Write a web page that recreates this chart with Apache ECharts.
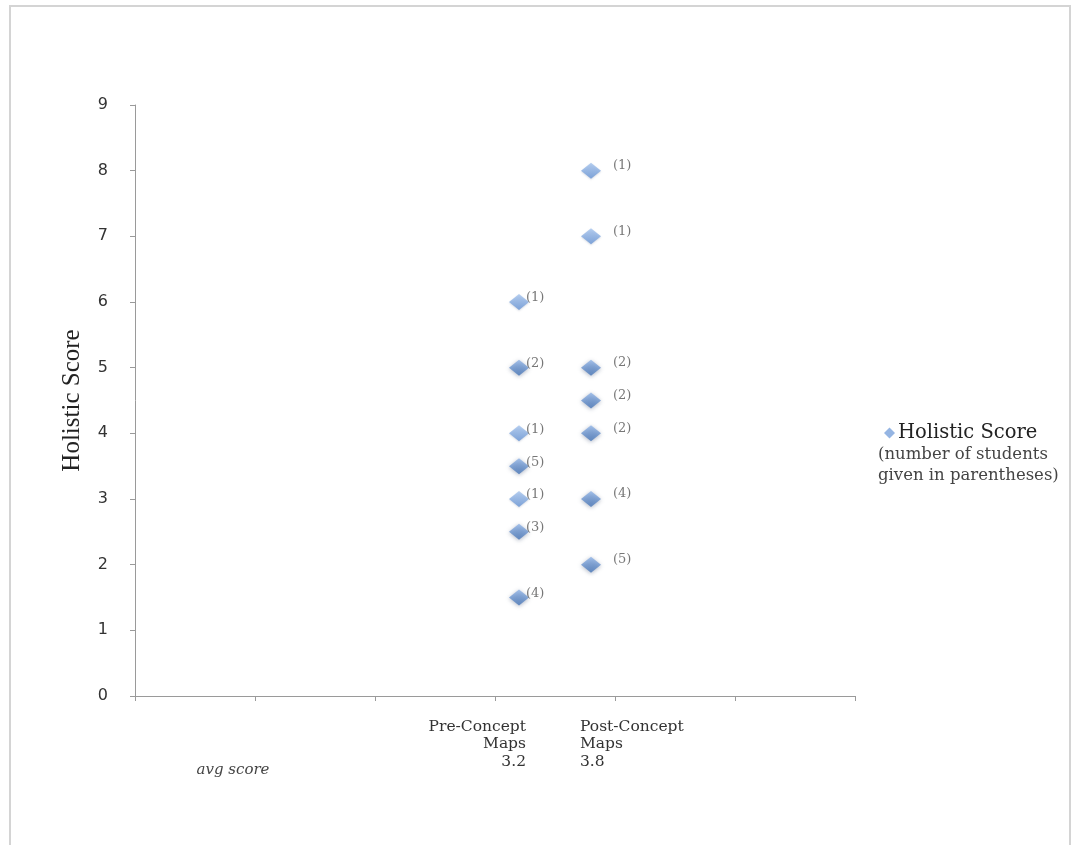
<!DOCTYPE html>
<html>
<head>
<meta charset="utf-8">
<script src="https://cdn.jsdelivr.net/npm/echarts@6/dist/echarts.min.js"></script>
<style>
html,body{margin:0;padding:0;background:#fff;}
#frame{position:absolute;left:9px;top:5px;width:1062px;height:845px;border-top:2px solid #d4d4d4;border-left:2px solid #d4d4d4;border-right:2px solid #d4d4d4;box-sizing:border-box;}
#main{position:absolute;left:0;top:0;width:1073px;height:845px;}
</style>
</head>
<body>
<div id="frame"></div>
<div id="main"></div>
<script>
// ---- data ----
const groupX = [3.2, 3.8];
const groupLabels = ['Pre-Concept\nMaps\n3.2', 'Post-Concept\nMaps\n3.8'];
const preScores = [6, 5, 4, 3.5, 3, 2.5, 1.5];
const preCounts = [1, 2, 1, 5, 1, 3, 4];
const postScores = [8, 7, 5, 4.5, 4, 3, 2];
const postCounts = [1, 1, 2, 2, 2, 4, 5];
const yTicks = [0, 1, 2, 3, 4, 5, 6, 7, 8, 9];
const seriesName = 'Holistic Score';
const legendNote = '(number of students\ngiven in parentheses)';
const avgLabel = 'avg score';

const chart = echarts.init(document.getElementById('main'), null, {renderer: 'canvas'});

function diamondColor(count) {
  if (count > 1) {
    return new echarts.graphic.LinearGradient(0, 0, 0, 1, [
      {offset: 0, color: '#93b6e8'}, {offset: 1, color: '#4574b6'}]);
  }
  return new echarts.graphic.LinearGradient(0, 0, 0, 1, [
    {offset: 0, color: '#a8c6ef'}, {offset: 1, color: '#6593d4'}]);
}

function makeData(x, scores, counts) {
  return scores.map((s, i) => ({
    value: [x, s, counts[i]],
    itemStyle: {
      color: diamondColor(counts[i]),
      shadowColor: counts[i] > 1 ? 'rgba(40,60,100,0.45)' : 'rgba(60,80,120,0.25)',
      shadowBlur: counts[i] > 1 ? 4 : 2,
      shadowOffsetY: 1
    }
  }));
}

const labelStyle = {
  show: true,
  position: 'right',
  formatter: p => '(' + p.value[2] + ')',
  fontFamily: 'DejaVu Serif',
  fontSize: 13,
  color: '#555'
};

const option = {
  animation: false,
  backgroundColor: 'transparent',
  grid: {left: 135, top: 105, width: 720, height: 591, containLabel: false},
  xAxis: {
    type: 'value', min: 0, max: 6, interval: 1,
    axisLine: {show: true, onZero: false, lineStyle: {color: '#9a9a9a', width: 1}},
    axisTick: {show: true, length: 5, lineStyle: {color: '#9a9a9a'}},
    axisLabel: {show: false},
    splitLine: {show: false}
  },
  yAxis: {
    type: 'value', min: yTicks[0], max: yTicks[yTicks.length - 1], interval: 1,
    name: seriesName,
    nameLocation: 'middle',
    nameGap: 50,
    nameTextStyle: {fontFamily: 'Liberation Serif', fontSize: 25, color: '#222'},
    axisLine: {show: true, lineStyle: {color: '#9a9a9a', width: 1}},
    axisTick: {show: true, length: 5, lineStyle: {color: '#9a9a9a'}},
    axisLabel: {margin: 27, fontFamily: 'DejaVu Sans', fontSize: 16, color: '#333'},
    splitLine: {show: false}
  },
  legend: {
    data: [{name: seriesName, icon: 'diamond', itemStyle: {color: '#7aa3dc'}}],
    left: 879, top: 418,
    itemWidth: 11, itemHeight: 11, itemGap: 4,
    textStyle: {fontFamily: 'DejaVu Serif', fontSize: 19.5, color: '#222', padding: [0, 0, 0, -2]}
  },
  series: [
    {
      name: seriesName, type: 'scatter', symbol: 'diamond', symbolSize: [20, 16],
      data: makeData(groupX[0], preScores, preCounts),
      label: Object.assign({}, labelStyle, {distance: -3, offset: [0, -4]})
    },
    {
      name: seriesName, type: 'scatter', symbol: 'diamond', symbolSize: [20, 16],
      data: makeData(groupX[1], postScores, postCounts),
      label: Object.assign({}, labelStyle, {distance: 12, offset: [0, -5]})
    }
  ]
};
chart.setOption(option);

const y0 = chart.convertToPixel({gridIndex: 0}, [0, 0])[1];
const px0 = chart.convertToPixel({gridIndex: 0}, [groupX[0], 0])[0];
const px1 = chart.convertToPixel({gridIndex: 0}, [groupX[1], 0])[0];
const xStart = chart.convertToPixel({gridIndex: 0}, [0, 0])[0];

chart.setOption({
  graphic: [
    {type: 'text', x: px0 + 7, y: y0 + 22,
     style: {text: groupLabels[0], align: 'right', verticalAlign: 'top',
       font: '15.5px "DejaVu Serif"', fill: '#333', lineHeight: 17.5}},
    {type: 'text', x: px1 - 11, y: y0 + 22,
     style: {text: groupLabels[1], align: 'left', verticalAlign: 'top',
       font: '15.5px "DejaVu Serif"', fill: '#333', lineHeight: 17.5}},
    {type: 'text', x: xStart + 98, y: y0 + 67,
     style: {text: avgLabel, align: 'center', verticalAlign: 'top',
       font: 'italic 15px "DejaVu Serif"', fill: '#444'}},
    {type: 'text', x: 878, y: 444,
     style: {text: legendNote, align: 'left', verticalAlign: 'top',
       font: '16.5px "DejaVu Serif"', fill: '#444', lineHeight: 21}}
  ]
});
</script>
</body>
</html>
